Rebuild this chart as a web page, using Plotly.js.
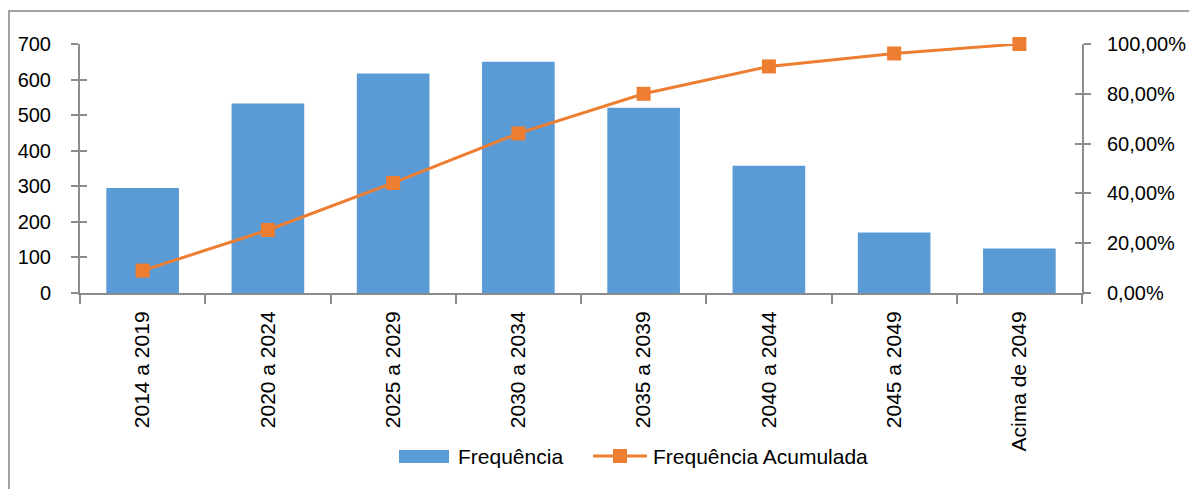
<!DOCTYPE html>
<html>
<head>
<meta charset="utf-8">
<script src="https://cdn.plot.ly/plotly-3.0.1.min.js"></script>
<style>
  html, body { margin: 0; padding: 0; background: #fff; }
  #wrap { position: relative; width: 1189px; height: 489px; overflow: hidden; }
  #chart { position: absolute; left: 0; top: 0; width: 1189px; height: 489px; }
  #frame { position: absolute; left: 8px; top: 10px; width: 1400px; height: 600px;
           border-left: 2px solid #a3a3a3; border-top: 2px solid #a3a3a3; pointer-events: none; }
</style>
</head>
<body>
<div id="wrap">
  <div id="chart"></div>
  <div id="frame"></div>
</div>
<script>
// Data
const categories = ["2014 a 2019", "2020 a 2024", "2025 a 2029", "2030 a 2034",
                    "2035 a 2039", "2040 a 2044", "2045 a 2049", "Acima de 2049"];
const frequencia = [295, 533, 617, 650, 521, 358, 170, 125];
const frequenciaAcumulada = [0.090, 0.253, 0.442, 0.641, 0.800, 0.910, 0.962, 1.000];
const leftTicks = [0, 100, 200, 300, 400, 500, 600, 700];
const rightTicks = [0, 0.2, 0.4, 0.6, 0.8, 1.0];
const seriesNames = ["Frequência", "Frequência Acumulada"];

const FONT = "Liberation Sans, Arial, sans-serif";
const AX = "#8c8c8c";
const BLUE = "#5B9BD5";
const ORANGE = "#ED7D31";

// plot-area geometry (px) used only to place the custom legend
const W = 1189, H = 489, ML = 80, MR = 107, MT = 44, MB = 196;
const PW = W - ML - MR, PH = H - MT - MB;
const px = v => (v - ML) / PW;
const py = v => (H - MB - v) / PH;

const traces = [
  {
    type: "bar",
    name: seriesNames[0],
    x: categories,
    y: frequencia,
    marker: { color: BLUE },
    yaxis: "y",
    showlegend: false
  },
  {
    type: "scatter",
    mode: "lines+markers",
    name: seriesNames[1],
    x: categories,
    y: frequenciaAcumulada,
    yaxis: "y2",
    cliponaxis: false,
    line: { color: ORANGE, width: 3 },
    marker: { color: ORANGE, symbol: "square", size: 14 },
    showlegend: false
  },
  // empty helper traces so the inner tick overlays are drawn
  { type: "scatter", x: [], y: [], yaxis: "y3", showlegend: false, hoverinfo: "skip" },
  { type: "scatter", x: [], y: [], yaxis: "y4", showlegend: false, hoverinfo: "skip" }
];

const legendFont = { family: FONT, size: 21, color: "#000" };

const layout = {
  width: W,
  height: H,
  margin: { l: ML, r: MR, t: MT, b: MB, pad: 0 },
  paper_bgcolor: "rgba(0,0,0,0)",
  plot_bgcolor: "rgba(0,0,0,0)",
  separators: ",.",
  font: { family: FONT, size: 20, color: "#000" },
  bargap: 0.42,
  showlegend: false,
  xaxis: {
    type: "category",
    showline: true, linecolor: AX, linewidth: 2,
    ticks: "outside", ticklen: 9, tickcolor: AX, tickwidth: 2,
    tickson: "boundaries",
    tickangle: -90,
    showgrid: false, zeroline: false,
    tickfont: { family: FONT, size: 21, color: "#000" },
    ticklabelstandoff: 8
  },
  yaxis: {
    range: [0, 700],
    tickvals: leftTicks,
    showline: true, linecolor: AX, linewidth: 2,
    ticks: "outside", ticklen: 7, tickcolor: AX, tickwidth: 2,
    showgrid: false, zeroline: false,
    tickfont: { family: FONT, size: 20, color: "#000" },
    ticklabelstandoff: 16
  },
  yaxis2: {
    range: [0, 1],
    tickvals: rightTicks,
    tickformat: ".2%",
    overlaying: "y",
    side: "right",
    showline: true, linecolor: AX, linewidth: 2,
    ticks: "outside", ticklen: 7, tickcolor: AX, tickwidth: 2,
    showgrid: false, zeroline: false,
    tickfont: { family: FONT, size: 20, color: "#000" },
    ticklabelstandoff: 12
  },
  yaxis3: {
    range: [0, 700], tickvals: leftTicks, overlaying: "y", side: "left",
    showline: false, showticklabels: false, showgrid: false, zeroline: false,
    ticks: "inside", ticklen: 7, tickcolor: AX, tickwidth: 2
  },
  yaxis4: {
    range: [0, 1], tickvals: rightTicks, overlaying: "y", side: "right",
    showline: false, showticklabels: false, showgrid: false, zeroline: false,
    ticks: "inside", ticklen: 7, tickcolor: AX, tickwidth: 2
  },
  shapes: [
    { type: "rect", xref: "paper", yref: "paper",
      x0: px(399), x1: px(449), y0: py(463), y1: py(450),
      fillcolor: BLUE, line: { width: 0 } },
    { type: "line", xref: "paper", yref: "paper",
      x0: px(593), x1: px(647), y0: py(456), y1: py(456),
      line: { color: ORANGE, width: 3 } },
    { type: "rect", xref: "paper", yref: "paper",
      x0: px(613), x1: px(627), y0: py(463), y1: py(449),
      fillcolor: ORANGE, line: { width: 0 } }
  ],
  annotations: [
    { xref: "paper", yref: "paper", x: px(456), y: py(456),
      xanchor: "left", yanchor: "middle", showarrow: false,
      text: seriesNames[0], font: legendFont },
    { xref: "paper", yref: "paper", x: px(651), y: py(456),
      xanchor: "left", yanchor: "middle", showarrow: false,
      text: seriesNames[1], font: legendFont }
  ]
};

Plotly.newPlot("chart", traces, layout, { displayModeBar: false, staticPlot: true });
</script>
</body>
</html>
